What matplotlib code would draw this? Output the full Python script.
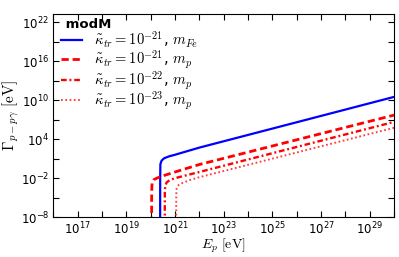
import matplotlib
matplotlib.use("Agg")
import matplotlib.pyplot as plt
from matplotlib.ticker import FixedLocator, FuncFormatter
import numpy as np

plt.rcParams["mathtext.fontset"] = "cm"

# exponents: log10(E_p / eV) and log10(Gamma / eV)
logE_fe21 = [20.39, 20.392, 20.40, 20.45, 20.55, 20.75, 21.0, 22.0, 26.0, 30.0]
logG_fe21 = [-9.0, -2.0, 0.2, 0.75, 1.1, 1.4, 1.65, 2.75, 6.65, 10.55]

logE_p21 = [20.04, 20.042, 20.06, 20.12, 20.25, 20.5, 21.0, 22.0, 26.0, 30.0]
logG_p21 = [-9.0, -4.0, -2.6, -2.2, -1.95, -1.6, -1.0, 0.15, 3.95, 7.75]

logE_p22 = [20.58, 20.582, 20.60, 20.66, 20.78, 21.0, 22.0, 26.0, 30.0]
logG_p22 = [-9.0, -4.0, -3.1, -2.6, -2.25, -1.95, -1.0, 2.85, 6.7]

logE_p23 = [21.05, 21.052, 21.07, 21.15, 21.33, 21.6, 22.0, 26.0, 30.0]
logG_p23 = [-9.0, -4.5, -3.5, -3.0, -2.65, -2.25, -1.8, 2.0, 5.8]

labels = [
    r"$\tilde{\kappa}_{tr}=10^{-21}$, $m_{Fe}$",
    r"$\tilde{\kappa}_{tr}=10^{-21}$, $m_p$",
    r"$\tilde{\kappa}_{tr}=10^{-22}$, $m_p$",
    r"$\tilde{\kappa}_{tr}=10^{-23}$, $m_p$",
]

xtick_exp = list(range(16, 31))
ytick_exp = list(range(-8, 23, 3))

fig = plt.figure(figsize=(3.99, 2.57), dpi=100)
ax = fig.add_axes([0.1336, 0.1537, 0.8539, 0.7930])

ax.plot(10.0 ** np.array(logE_fe21), 10.0 ** np.array(logG_fe21),
        color="#0000ff", lw=1.6, label=labels[0])
ax.plot(10.0 ** np.array(logE_p21), 10.0 ** np.array(logG_p21),
        color="#ff0000", lw=2.0, ls=(0, (2.6, 1.4)), label=labels[1])
ax.plot(10.0 ** np.array(logE_p22), 10.0 ** np.array(logG_p22),
        color="#ff0000", lw=1.7, ls=(0, (2.4, 1.2, 0.8, 1.2)), label=labels[2])
ax.plot(10.0 ** np.array(logE_p23), 10.0 ** np.array(logG_p23),
        color="#ff4040", lw=1.4, ls=(0, (0.9, 1.3)), label=labels[3])

ax.set_xscale("log")
ax.set_yscale("log")
ax.set_xlim(1e16, 1e30)
ax.set_ylim(1e-8, 10 ** 23.35)

ax.xaxis.set_major_locator(FixedLocator([10.0 ** e for e in xtick_exp]))
ax.yaxis.set_major_locator(FixedLocator([10.0 ** e for e in ytick_exp]))
ax.xaxis.set_minor_locator(FixedLocator([]))
ax.yaxis.set_minor_locator(FixedLocator([]))


def xfmt(v, pos):
    e = int(round(np.log10(v)))
    return r"$\mathregular{10^{%d}}$" % e if e % 2 == 1 else ""


def yfmt(v, pos):
    e = int(round(np.log10(v)))
    return r"$\mathregular{10^{%d}}$" % e if (e + 8) % 6 == 0 else ""


ax.xaxis.set_major_formatter(FuncFormatter(xfmt))
ax.yaxis.set_major_formatter(FuncFormatter(yfmt))
ax.tick_params(which="both", direction="in", top=True, right=True,
               length=4, width=0.8, labelsize=8.5)
ax.tick_params(axis="x", pad=2)
ax.tick_params(axis="y", pad=3)

ax.set_xlabel(r"$E_p\ [\mathrm{eV}]$", fontsize=10, labelpad=0)
ax.set_ylabel(r"$\Gamma_{p-p\gamma}\ [\mathrm{eV}]$", fontsize=11)
ax.yaxis.set_label_coords(-0.095, 0.5)

leg = ax.legend(loc="upper left", frameon=False, fontsize=10.5,
                title=" modM", title_fontproperties={"weight": "bold", "size": 9.5},
                alignment="left", handlelength=1.45, handletextpad=0.8,
                labelspacing=-0.1, borderaxespad=0.0, borderpad=0.3,
                bbox_to_anchor=(0.009, 1.0))

fig.savefig("out.png", dpi=100)
